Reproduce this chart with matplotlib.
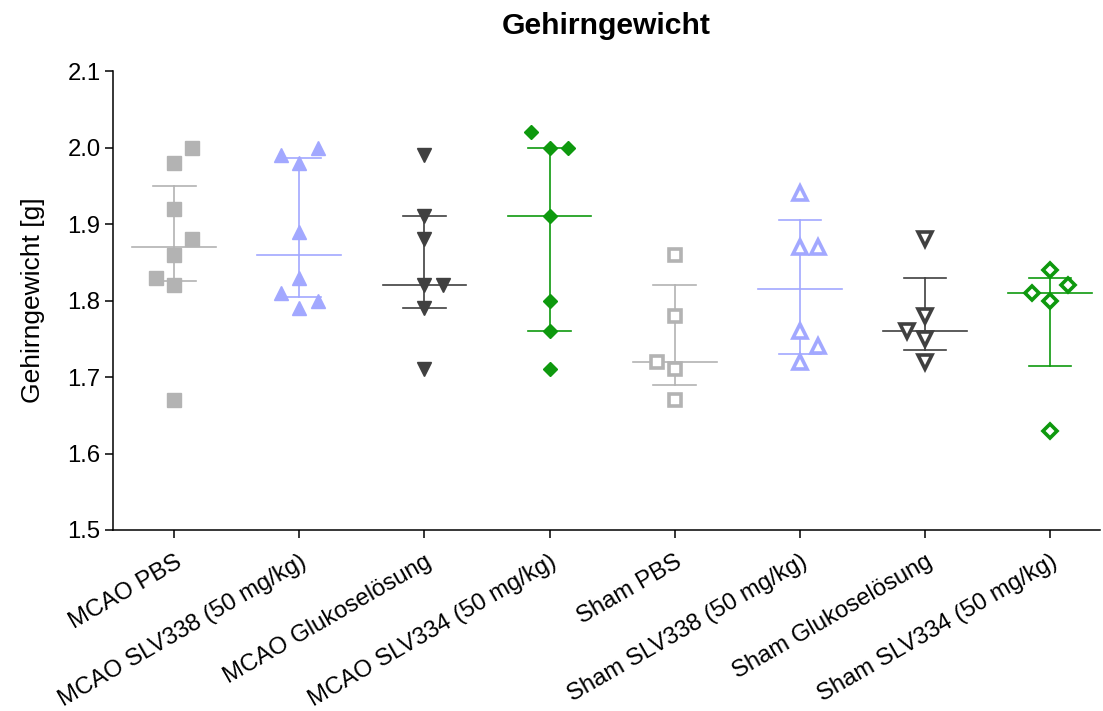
import numpy as np
import matplotlib
matplotlib.use("Agg")
import matplotlib.pyplot as plt

plt.rcParams['font.family'] = ['Liberation Sans', 'DejaVu Sans']

groups = ["MCAO PBS", "MCAO SLV338 (50 mg/kg)", "MCAO Glukoselösung",
          "MCAO SLV334 (50 mg/kg)", "Sham PBS", "Sham SLV338 (50 mg/kg)",
          "Sham Glukoselösung", "Sham SLV334 (50 mg/kg)"]

# brain weights [g] per animal
mcao_pbs = [2.00, 1.98, 1.92, 1.88, 1.86, 1.83, 1.82, 1.67]
mcao_slv338 = [2.00, 1.99, 1.98, 1.89, 1.83, 1.81, 1.80, 1.79]
mcao_gluc = [1.99, 1.91, 1.88, 1.82, 1.82, 1.79, 1.71]
mcao_slv334 = [2.02, 2.00, 2.00, 1.91, 1.80, 1.76, 1.71]
sham_pbs = [1.86, 1.78, 1.72, 1.71, 1.67]
sham_slv338 = [1.94, 1.87, 1.87, 1.76, 1.74, 1.72]
sham_gluc = [1.88, 1.78, 1.76, 1.75, 1.72]
sham_slv334 = [1.84, 1.82, 1.81, 1.80, 1.63]

# side-by-side column of each point (-1 left, 0 centre, 1 right)
col_mcao_pbs = [1, 0, 0, 1, 0, -1, 0, 0]
col_mcao_slv338 = [1, -1, 0, 0, 0, -1, 1, 0]
col_mcao_gluc = [0, 0, 0, 0, 1, 0, 0]
col_mcao_slv334 = [-1, 0, 1, 0, 0, 0, 0]
col_sham_pbs = [0, 0, -1, 0, 0]
col_sham_slv338 = [0, 0, 1, 0, 1, 0]
col_sham_gluc = [0, 0, -1, 0, 0]
col_sham_slv334 = [0, 1, -1, 0, 0]

# median with interquartile range
medians = [1.87, 1.86, 1.82, 1.91, 1.72, 1.815, 1.76, 1.81]
q1 = [1.825, 1.805, 1.79, 1.76, 1.69, 1.73, 1.735, 1.715]
q3 = [1.95, 1.986, 1.91, 2.00, 1.82, 1.905, 1.83, 1.83]

values = [mcao_pbs, mcao_slv338, mcao_gluc, mcao_slv334,
          sham_pbs, sham_slv338, sham_gluc, sham_slv334]
columns = [col_mcao_pbs, col_mcao_slv338, col_mcao_gluc, col_mcao_slv334,
           col_sham_pbs, col_sham_slv338, col_sham_gluc, col_sham_slv334]

colors = ["#b3b3b3", "#a2a8ff", "#404040", "#0e990e",
          "#b3b3b3", "#a2a8ff", "#404040", "#0e990e"]
markers = ["s", "^", "v", "D", "s", "^", "v", "D"]
filled = [True, True, True, True, False, False, False, False]
sizes = [9.5, 10, 10, 7.5, 9, 9.5, 9.5, 7.5]

fig = plt.figure(figsize=(11.03, 7.11), dpi=100)
ax = fig.add_axes([113 / 1103, 1 - 530 / 711, (1100 - 113) / 1103, (530 - 71) / 711])

step = 0.145
for i, (vals, cols) in enumerate(zip(values, columns)):
    c = colors[i]
    x = i + np.array(cols) * step
    ax.plot([i - 0.335, i + 0.335], [medians[i], medians[i]], color=c, lw=1.2, zorder=2)
    ax.plot([i, i], [q1[i], q3[i]], color=c, lw=1.2, zorder=2)
    for q in (q1[i], q3[i]):
        ax.plot([i - 0.17, i + 0.17], [q, q], color=c, lw=1.2, zorder=2)
    if filled[i]:
        ax.plot(x, vals, linestyle="none", marker=markers[i], ms=sizes[i],
                color=c, mec=c, zorder=3)
    else:
        ax.plot(x, vals, linestyle="none", marker=markers[i], ms=sizes[i],
                mfc="white", mec=c, mew=2.6, zorder=3)

ax.set_xlim(-0.49, 7.4)
ax.set_ylim(1.5, 2.1)
ax.set_yticks(np.arange(1.5, 2.11, 0.1))
ax.set_yticklabels([f"{v:.1f}" for v in np.arange(1.5, 2.11, 0.1)])
ax.set_xticks(range(len(groups)))
ax.set_xticklabels(groups, rotation=30, ha="right", rotation_mode="anchor")

for s in ("top", "right"):
    ax.spines[s].set_visible(False)
for s in ("left", "bottom"):
    ax.spines[s].set_linewidth(1.1)
ax.tick_params(axis="both", length=6, width=1.1, labelsize=17.2, pad=3)
ax.tick_params(axis="x", pad=9)

ax.set_ylabel("Gehirngewicht [g]", fontsize=19, labelpad=16)
ax.set_title("Gehirngewicht", fontsize=21.7, fontweight="bold", pad=27)

fig.savefig("out.png", dpi=100)
